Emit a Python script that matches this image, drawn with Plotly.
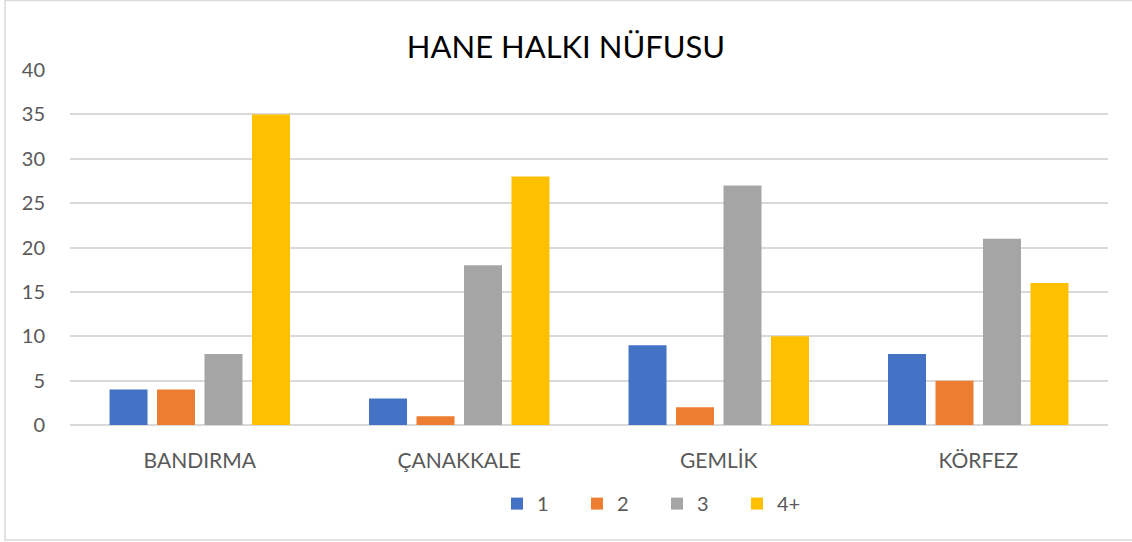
import plotly.graph_objects as go

categories = ["BANDIRMA", "ÇANAKKALE", "GEMLİK", "KÖRFEZ"]
series_names = ["1", "2", "3", "4+"]
s1 = [4, 3, 9, 8]
s2 = [4, 1, 2, 5]
s3 = [8, 18, 27, 21]
s4 = [35, 28, 10, 16]
series_values = [s1, s2, s3, s4]
colors = ["#4472C4", "#ED7D31", "#A5A5A5", "#FFC000"]
tick_vals = [0, 5, 10, 15, 20, 25, 30, 35, 40]
tick_text = ["0", "5", "10", "15", "20", "25", "30", "35", "40"]

font_family = "Lato, Open Sans, sans-serif"

fig = go.Figure()
for name, vals, c in zip(series_names, series_values, colors):
    fig.add_trace(go.Bar(name=name, x=categories, y=vals, marker_color=c,
                         marker_line_width=0))

fig.update_layout(
    width=1132, height=542,
    paper_bgcolor="white", plot_bgcolor="white",
    margin=dict(l=70, r=24, t=70, b=117),
    barmode="group", bargap=0.268, bargroupgap=0.2,
    title=dict(text="HANE HALKI NÜFUSU", x=0.5, xanchor="center",
               y=1 - 47 / 542, yanchor="middle",
               font=dict(family=font_family, size=31, color="#000000")),
    font=dict(family=font_family, size=20, color="#595959"),
    xaxis=dict(showgrid=False, showline=False, ticks="", tickfont=dict(size=21, color="#595959"),
               ticklabelstandoff=21),
    yaxis=dict(range=[0, 40], tickvals=tick_vals, ticktext=tick_text,
               showgrid=True, gridcolor="#D9D9D9", gridwidth=1.5,
               zeroline=True, zerolinecolor="#D9D9D9", zerolinewidth=1.5,
               showline=False, ticks="", tickfont=dict(size=20, color="#595959"),
               ticklabelstandoff=24),
    legend=dict(orientation="h", x=(497 - 70) / 1038, xanchor="left", y=-0.1665, yanchor="top",
                font=dict(size=20, color="#595959"), entrywidth=35,
                itemwidth=30, traceorder="normal"),
    showlegend=True,
)

fig.add_shape(type="rect", xref="paper", yref="paper",
              x0=-65 / 1038, x1=1.2, y0=-115 / 355, y1=1 + 69.5 / 355,
              line=dict(color="#D9D9D9", width=1.5), fillcolor="rgba(0,0,0,0)",
              layer="below")

fig.write_html("out.html", config={"displayModeBar": False},
               post_script="document.body.style.margin='0px';")
